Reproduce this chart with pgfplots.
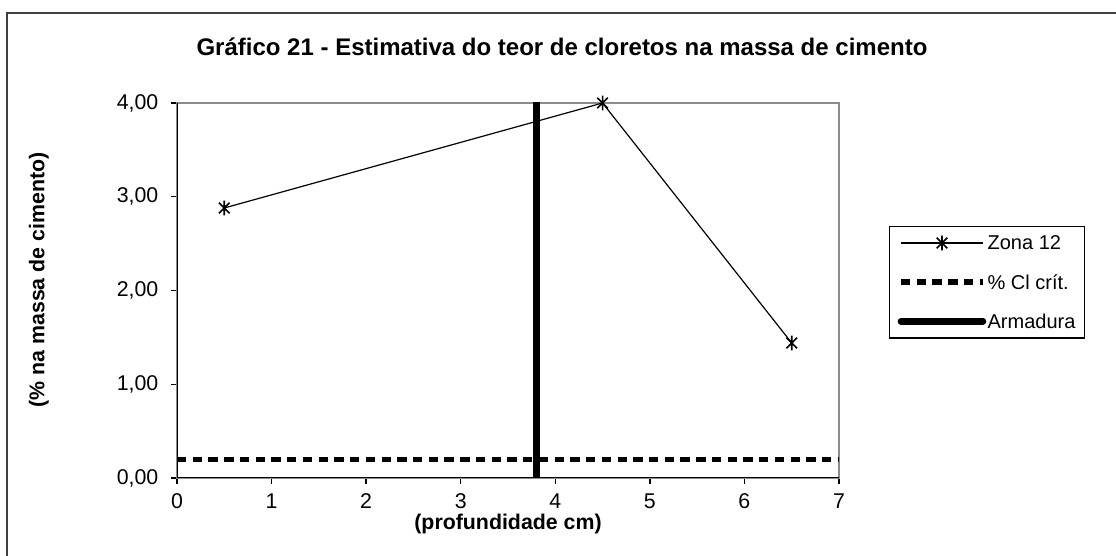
\documentclass[border=0pt]{standalone}
\usepackage{fontspec}
\setmainfont{Liberation Sans}
\usepackage{pgfplots}
\pgfplotsset{compat=1.18}

% Excel-like star marker: an x with a vertical bar
\pgfdeclareplotmark{xstar}{%
  \pgfpathmoveto{\pgfpointscale{0.72}{\pgfqpoint{-\pgfplotmarksize}{-\pgfplotmarksize}}}%
  \pgfpathlineto{\pgfpointscale{0.72}{\pgfqpoint{\pgfplotmarksize}{\pgfplotmarksize}}}%
  \pgfpathmoveto{\pgfpointscale{0.72}{\pgfqpoint{-\pgfplotmarksize}{\pgfplotmarksize}}}%
  \pgfpathlineto{\pgfpointscale{0.72}{\pgfqpoint{\pgfplotmarksize}{-\pgfplotmarksize}}}%
  \pgfpathmoveto{\pgfqpoint{0pt}{-\pgfplotmarksize}}%
  \pgfpathlineto{\pgfqpoint{0pt}{\pgfplotmarksize}}%
  \pgfusepathqstroke}

\begin{document}
\begin{tikzpicture}
\useasboundingbox (0,0) rectangle (837pt,417pt);
\fill[white] (0,0) rectangle (837pt,417pt);
% outer chart frame (cut off at right and bottom as in the source)
\draw[line width=1.4pt, black!75] (5.25pt,-20pt) -- (5.25pt,407.25pt) -- (860pt,407.25pt);

\begin{axis}[
  at={(132.75pt,58.5pt)}, anchor=south west,
  scale only axis,
  width=496.5pt, height=281.25pt,
  xmin=0, xmax=7, ymin=0, ymax=4,
  xtick={0,1,...,7}, ytick={0,1,...,4},
  /pgf/number format/assume math mode=true,
  ticklabel style={font=\fontsize{16}{18}\selectfont},
  xticklabel style={yshift=-4pt},
  yticklabel style={xshift=-6pt, /pgf/number format/.cd, fixed, fixed zerofill, precision=2, use comma},
  tick align=outside, xtick pos=left, ytick pos=left,
  major tick length=4.5pt,
  tick style={black, line width=1pt},
  axis line style={black!45, line width=1.1pt},
  title={\bfseries Gráfico 21 - Estimativa do teor de cloretos na massa de cimento},
  title style={font=\fontsize{18}{20}\selectfont, at={(axis description cs:0.5816,1.128)}, anchor=center},
  xlabel={\bfseries (profundidade cm)},
  xlabel style={font=\fontsize{16}{18}\selectfont, at={(axis description cs:0.5,-0.122)}, anchor=center},
  ylabel={\bfseries (\% na massa de cimento)},
  ylabel style={font=\fontsize{16}{18}\selectfont, at={(axis description cs:-0.2085,0.528)}, anchor=center},
  legend style={at={(1.0755,0.672)}, anchor=north west, draw=black, line width=1pt,
    font=\fontsize{15}{17}\selectfont, inner xsep=6pt, inner ysep=6pt, row sep=16.5pt,
    nodes={inner sep=1pt, text depth=0pt}},
  legend cell align=left,
  legend image code/.code={%
    \draw[mark repeat=2, mark phase=2, #1] plot coordinates {(0pt,0pt) (30.75pt,0pt) (61.5pt,0pt)};},
]
\addplot[black, line width=0.9pt, mark=xstar, mark size=5.5pt, mark options={line width=1.2pt, solid}]
  coordinates {(0.5,2.88) (4.5,4.00) (6.5,1.44)};
\addlegendentry{Zona 12}
\addplot[black, line width=4pt, dash pattern=on 7pt off 4.8pt]
  coordinates {(0,0.2) (7,0.2)};
\addlegendentry{\% Cl crít.}
\addplot[black, line width=5pt, line cap=round]
  coordinates {(3.8,0) (3.8,4)};
\addlegendentry{Armadura}
\draw[black, line width=1.3pt] (rel axis cs:0,1) -- (rel axis cs:0,0) -- (rel axis cs:1,0);
\end{axis}
\end{tikzpicture}
\end{document}
